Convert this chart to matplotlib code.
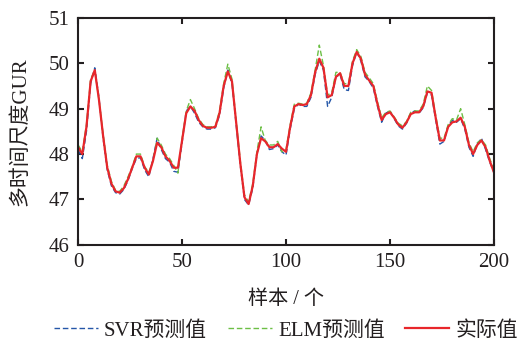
import numpy as np
import matplotlib
matplotlib.use("Agg")
import matplotlib.pyplot as plt

plt.rcParams['font.family'] = ['Liberation Serif', 'Noto Sans CJK SC']
plt.rcParams['mathtext.fontset'] = 'stix'

samples = np.arange(0, 201, 2)

actual = [48.15, 48.0, 48.6, 49.6, 49.85, 49.2, 48.4, 47.7, 47.35, 47.18,
          47.15, 47.25, 47.45, 47.7, 47.95, 47.95, 47.7, 47.55, 47.85, 48.25,
          48.15, 47.95, 47.85, 47.7, 47.7, 48.3, 48.9, 49.05, 48.95, 48.75,
          48.62, 48.58, 48.58, 48.6, 48.9, 49.5, 49.82, 49.6, 48.7, 47.8,
          47.05, 46.9, 47.3, 48.0, 48.35, 48.28, 48.15, 48.15, 48.22, 48.12,
          48.05, 48.6, 49.05, 49.1, 49.08, 49.1, 49.3, 49.8, 50.1, 49.9,
          49.25, 49.3, 49.7, 49.78, 49.5, 49.5, 50.0, 50.25, 50.1, 49.75,
          49.62, 49.5, 49.1, 48.75, 48.88, 48.92, 48.8, 48.65, 48.58, 48.7,
          48.88, 48.92, 48.92, 49.05, 49.38, 49.35, 48.8, 48.3, 48.3, 48.6,
          48.7, 48.72, 48.8, 48.6, 48.2, 48.0, 48.2, 48.3, 48.15, 47.85,
          47.6]

svr_pred = [48.1, 47.9, 48.5, 49.55, 49.9, 49.25, 48.35, 47.65, 47.3, 47.15,
            47.12, 47.22, 47.42, 47.68, 47.9, 47.92, 47.65, 47.5, 47.9, 48.35,
            48.1, 47.9, 47.82, 47.62, 47.6, 48.25, 48.95, 49.05, 48.9, 48.7,
            48.6, 48.55, 48.55, 48.58, 48.85, 49.45, 49.85, 49.55, 48.65, 47.75,
            47.0, 46.88, 47.25, 48.0, 48.4, 48.3, 48.1, 48.12, 48.2, 48.05,
            47.98, 48.55, 49.0, 49.1, 49.05, 49.05, 49.25, 49.75, 50.05, 49.85,
            49.05, 49.25, 49.7, 49.75, 49.42, 49.4, 49.95, 50.25, 50.05, 49.7,
            49.6, 49.45, 49.05, 48.7, 48.9, 48.95, 48.78, 48.62, 48.55, 48.68,
            48.9, 48.95, 48.9, 49.02, 49.35, 49.3, 48.75, 48.22, 48.28, 48.62,
            48.75, 48.7, 48.78, 48.55, 48.15, 47.95, 48.22, 48.35, 48.1, 47.82,
            47.6]

elm_pred = [48.2, 48.05, 48.65, 49.65, 49.85, 49.2, 48.45, 47.75, 47.4, 47.2,
            47.18, 47.3, 47.5, 47.72, 48.0, 48.0, 47.72, 47.6, 47.85, 48.35,
            48.2, 48.0, 47.9, 47.75, 47.58, 48.35, 48.95, 49.2, 49.0, 48.78,
            48.65, 48.6, 48.6, 48.62, 48.95, 49.55, 49.98, 49.65, 48.75, 47.85,
            47.1, 46.95, 47.35, 48.05, 48.6, 48.3, 48.2, 48.2, 48.28, 48.05,
            48.1, 48.65, 49.1, 49.12, 49.1, 49.12, 49.35, 49.85, 50.4, 49.95,
            49.3, 49.35, 49.8, 49.8, 49.55, 49.55, 50.05, 50.3, 50.15, 49.8,
            49.68, 49.55, 49.15, 48.8, 48.92, 48.95, 48.82, 48.68, 48.62, 48.72,
            48.92, 48.95, 48.95, 49.1, 49.5, 49.4, 48.85, 48.35, 48.35, 48.65,
            48.78, 48.75, 49.0, 48.65, 48.25, 48.05, 48.25, 48.32, 48.2, 47.9,
            47.65]

fig = plt.figure(figsize=(5.21, 3.43), dpi=100)
ax = fig.add_axes([0.15, 0.286, 0.798, 0.662])

ax.plot(samples, svr_pred, color='#2456a8', lw=1.0, ls=(0, (4, 2)), label='SVR预测值')
ax.plot(samples, elm_pred, color='#6cbf45', lw=1.0, ls=(0, (4, 2)), label='ELM预测值')
ax.plot(samples, actual, color='#e8262b', lw=1.6, label='实际值')

ax.set_xlim(0, 200)
ax.set_ylim(46, 51)
ax.set_xticks([0, 50, 100, 150, 200])
ax.set_yticks([46, 47, 48, 49, 50, 51])
ax.tick_params(direction='in', length=4, width=1.5, top=True, right=True,
               labelsize=15, colors='#231f20')
ax.tick_params(axis='x', pad=6)
ax.tick_params(axis='y', pad=6)
for s in ax.spines.values():
    s.set_linewidth(1.5)
    s.set_color('#231f20')

ax.set_xlabel('样本 / 个', fontsize=14.5, color='#231f20')
ax.set_ylabel('多时间尺度GUR', fontsize=15, color='#231f20')
ax.xaxis.set_label_coords(0.5, -0.2)
ax.yaxis.set_label_coords(-0.115, 0.5)

leg = ax.legend(loc='center', bbox_to_anchor=(0.5, -0.379), ncol=3,
                frameon=False, fontsize=15, handlelength=2.1, handletextpad=0.3,
                columnspacing=1.0, borderaxespad=0, borderpad=0)
for t in leg.get_texts():
    t.set_color('#231f20')

fig.savefig('out.png', dpi=100)
